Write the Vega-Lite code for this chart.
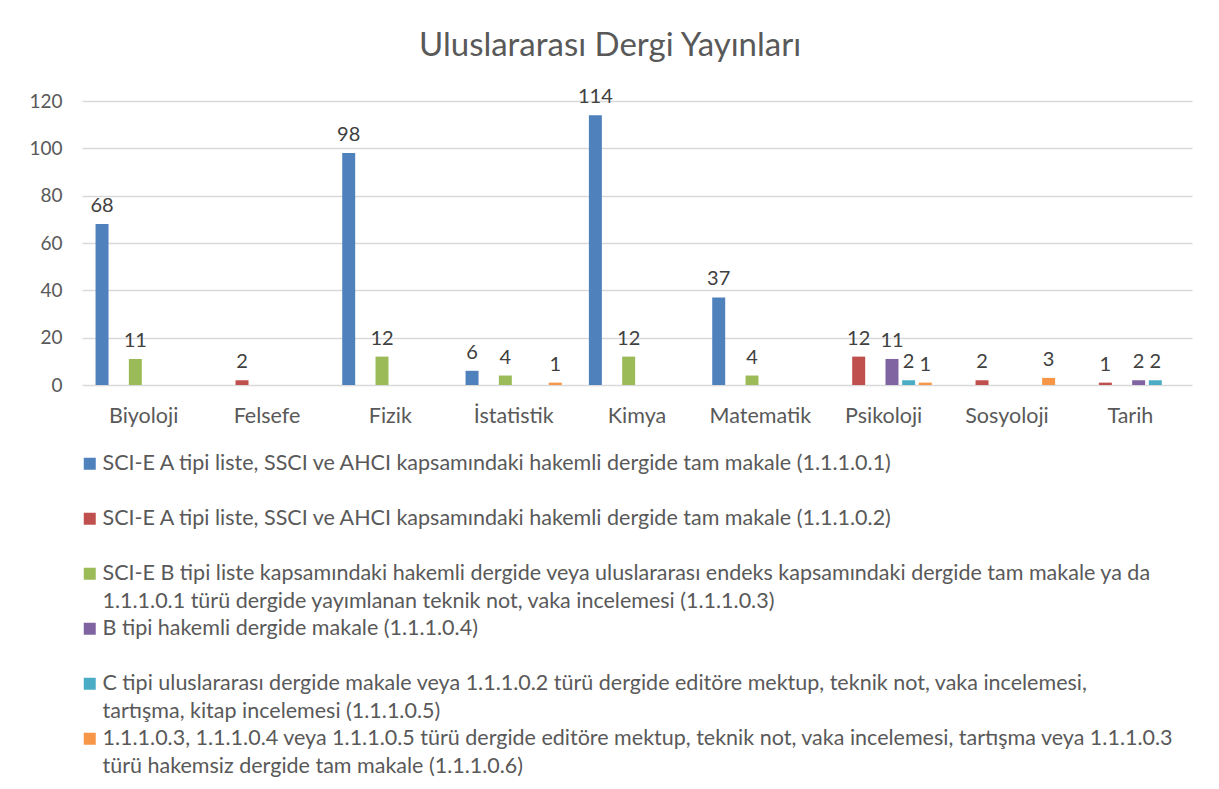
{
  "$schema": "https://vega.github.io/schema/vega-lite/v6.json",
  "width": 1110,
  "height": 284,
  "padding": {"left": 28, "top": 30, "right": 5, "bottom": 5},
  "background": "white",
  "title": {
    "text": "Uluslararası Dergi Yayınları",
    "font": "Lato",
    "fontSize": 33,
    "fontWeight": "normal",
    "color": "#595959",
    "anchor": "start",
    "frame": "group",
    "dx": 337,
    "offset": 24
  },
  "config": {
    "view": {"stroke": null},
    "font": "Lato"
  },
  "data": {
    "values": [
      {"alan": "Biyoloji", "seri": "1.1.1.0.1", "deger": 68},
      {"alan": "Biyoloji", "seri": "1.1.1.0.3", "deger": 11},
      {"alan": "Felsefe", "seri": "1.1.1.0.2", "deger": 2},
      {"alan": "Fizik", "seri": "1.1.1.0.1", "deger": 98},
      {"alan": "Fizik", "seri": "1.1.1.0.3", "deger": 12},
      {"alan": "İstatistik", "seri": "1.1.1.0.1", "deger": 6},
      {"alan": "İstatistik", "seri": "1.1.1.0.3", "deger": 4},
      {"alan": "İstatistik", "seri": "1.1.1.0.6", "deger": 1},
      {"alan": "Kimya", "seri": "1.1.1.0.1", "deger": 114},
      {"alan": "Kimya", "seri": "1.1.1.0.3", "deger": 12},
      {"alan": "Matematik", "seri": "1.1.1.0.1", "deger": 37},
      {"alan": "Matematik", "seri": "1.1.1.0.3", "deger": 4},
      {"alan": "Psikoloji", "seri": "1.1.1.0.2", "deger": 12},
      {"alan": "Psikoloji", "seri": "1.1.1.0.4", "deger": 11},
      {"alan": "Psikoloji", "seri": "1.1.1.0.5", "deger": 2},
      {"alan": "Psikoloji", "seri": "1.1.1.0.6", "deger": 1},
      {"alan": "Sosyoloji", "seri": "1.1.1.0.2", "deger": 2},
      {"alan": "Sosyoloji", "seri": "1.1.1.0.6", "deger": 3},
      {"alan": "Tarih", "seri": "1.1.1.0.2", "deger": 1},
      {"alan": "Tarih", "seri": "1.1.1.0.4", "deger": 2},
      {"alan": "Tarih", "seri": "1.1.1.0.5", "deger": 2}
    ]
  },
  "encoding": {
    "x": {
      "field": "alan",
      "type": "nominal",
      "sort": ["Biyoloji", "Felsefe", "Fizik", "İstatistik", "Kimya", "Matematik", "Psikoloji", "Sosyoloji", "Tarih"],
      "scale": {"paddingInner": 0.19, "paddingOuter": 0.095},
      "axis": {
        "title": null,
        "labelAngle": 0,
        "labelFont": "Lato",
        "labelFontSize": 21.5,
        "labelColor": "#595959",
        "labelPadding": 20,
        "ticks": false,
        "domain": false
      }
    },
    "xOffset": {
      "field": "seri",
      "type": "nominal",
      "sort": ["1.1.1.0.1", "1.1.1.0.2", "1.1.1.0.3", "1.1.1.0.4", "1.1.1.0.5", "1.1.1.0.6"],
      "scale": {"paddingInner": 0.22, "paddingOuter": 0.11}
    },
    "y": {
      "field": "deger",
      "type": "quantitative",
      "scale": {"domain": [0, 120]},
      "axis": {
        "title": null,
        "values": [0, 20, 40, 60, 80, 100, 120],
        "labelFont": "Lato",
        "labelFontSize": 19,
        "labelColor": "#595959",
        "labelPadding": 20,
        "ticks": false,
        "domain": false,
        "gridColor": "#D9D9D9",
        "gridWidth": 1.5
      }
    }
  },
  "layer": [
    {
      "mark": {"type": "bar"},
      "encoding": {
        "color": {
          "field": "seri",
          "type": "nominal",
          "scale": {
            "domain": ["1.1.1.0.1", "1.1.1.0.2", "1.1.1.0.3", "1.1.1.0.4", "1.1.1.0.5", "1.1.1.0.6"],
            "range": ["#4F81BD", "#C0504D", "#9BBB59", "#8064A2", "#4BACC6", "#F79646"]
          },
          "legend": {
            "title": null,
            "orient": "none",
            "legendX": -3,
            "legendY": 352,
            "direction": "vertical",
            "columns": 1,
            "symbolType": "square",
            "symbolSize": 144,
            "symbolStrokeWidth": 0,
            "labelFont": "Lato",
            "labelFontSize": 21.5,
            "labelColor": "#595959",
            "labelLimit": 1300,
            "labelOffset": 2,
            "labelBaseline": "top",
            "rowPadding": 4,
            "encode": {
              "labels": {
                "update": {
                  "dy": {"value": -11},
                  "lineHeight": {"value": 28}
                }
              }
            },
            "labelExpr": "({'1.1.1.0.1': ['SCI-E A tipi liste, SSCI ve AHCI kapsamındaki hakemli dergide tam makale (1.1.1.0.1)', ' '], '1.1.1.0.2': ['SCI-E A tipi liste, SSCI ve AHCI kapsamındaki hakemli dergide tam makale (1.1.1.0.2)', ' '], '1.1.1.0.3': ['SCI-E B tipi liste kapsamındaki hakemli dergide veya uluslararası endeks kapsamındaki dergide tam makale ya da', '1.1.1.0.1 türü dergide yayımlanan teknik not, vaka incelemesi (1.1.1.0.3)'], '1.1.1.0.4': ['B tipi hakemli dergide makale (1.1.1.0.4)', ' '], '1.1.1.0.5': ['C tipi uluslararası dergide makale veya 1.1.1.0.2 türü dergide editöre mektup, teknik not, vaka incelemesi,', 'tartışma, kitap incelemesi (1.1.1.0.5)'], '1.1.1.0.6': ['1.1.1.0.3, 1.1.1.0.4 veya 1.1.1.0.5 türü dergide editöre mektup, teknik not, vaka incelemesi, tartışma veya 1.1.1.0.3', 'türü hakemsiz dergide tam makale (1.1.1.0.6)']})[datum.label]"
          }
        }
      }
    },
    {
      "mark": {
        "type": "text",
        "baseline": "bottom",
        "dy": -8,
        "font": "Lato",
        "fontSize": 20,
        "color": "#404040"
      },
      "encoding": {
        "text": {"field": "deger", "type": "quantitative"}
      }
    }
  ]
}
